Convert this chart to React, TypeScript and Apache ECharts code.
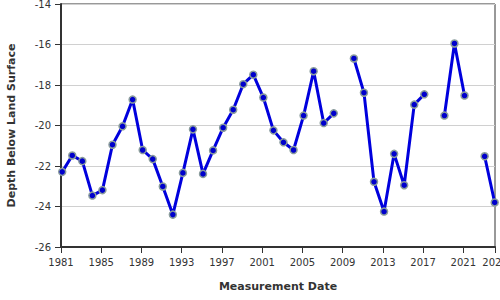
import React, { useEffect, useRef } from "react";
import * as echarts from "echarts";

const BASE_YEAR = 1981;
const years = [
  1981, 1982, 1983, 1984, 1985, 1986, 1987, 1988, 1989, 1990,
  1991, 1992, 1993, 1994, 1995, 1996, 1997, 1998, 1999, 2000,
  2001, 2002, 2003, 2004, 2005, 2006, 2007, 2008, 2009, 2010,
  2011, 2012, 2013, 2014, 2015, 2016, 2017, 2018, 2019, 2020,
  2021, 2022, 2023, 2024,
];
const depths: (number | null)[] = [
  -22.29, -21.48, -21.76, -23.46, -23.19, -20.95, -20.04, -18.72, -21.21, -21.66,
  -23.01, -24.4, -22.34, -20.19, -22.39, -21.23, -20.11, -19.22, -17.96, -17.49,
  -18.62, -20.24, -20.83, -21.21, -19.51, -17.32, -19.88, -19.4, null, -16.69,
  -18.38, -22.78, -24.25, -21.4, -22.95, -18.97, -18.46, null, -19.51, -15.95,
  -18.52, null, -21.52, -23.8,
];
const MEASURE_OFFSET = 0.12; // measurements taken early in each year
const X_MAX = 43.15;
const yTicks = [-14, -16, -18, -20, -22, -24, -26];

export default function App() {
  const ref = useRef<HTMLDivElement>(null);
  useEffect(() => {
    if (!ref.current) return;
    const chart = echarts.init(ref.current, null, { renderer: "svg" });
    const data = years.map((y, i) => [
      y - BASE_YEAR + MEASURE_OFFSET,
      depths[i] === null ? "-" : depths[i],
    ]);
    chart.setOption({
      animation: false,
      textStyle: { fontFamily: "DejaVu Sans" },
      grid: {
        left: 61,
        right: 5,
        top: 4,
        bottom: 53,
        containLabel: false,
        outerBoundsMode: "none",
        show: true,
        borderColor: "#333",
        borderWidth: 1,
      },
      xAxis: {
        type: "value",
        min: 0,
        max: X_MAX,
        interval: 4,
        name: "Measurement Date",
        nameLocation: "middle",
        nameGap: 34,
        nameTextStyle: { fontWeight: "bold", fontSize: 11, color: "#333" },
        axisLine: { show: true, lineStyle: { color: "#333", width: 2 } },
        axisTick: { show: true, length: 6, lineStyle: { color: "#333" } },
        axisLabel: {
          color: "#333",
          fontSize: 10,
          margin: 10,
          showMaxLabel: true,
          showMinLabel: true,
          hideOverlap: false,
          formatter: (v: number) => String(Math.floor(v + 1e-6) + BASE_YEAR),
        },
        splitLine: { show: false },
      },
      yAxis: {
        type: "value",
        min: yTicks[yTicks.length - 1],
        max: yTicks[0],
        interval: 2,
        name: "Depth Below Land Surface",
        nameLocation: "middle",
        nameGap: 44,
        nameTextStyle: { fontWeight: "bold", fontSize: 11, color: "#333" },
        axisLine: { show: true, lineStyle: { color: "#333", width: 2 } },
        axisTick: { show: true, length: 6, lineStyle: { color: "#333" } },
        axisLabel: { color: "#333", fontSize: 10, margin: 10 },
        splitLine: { show: true, lineStyle: { color: "#d0d0d0", width: 1 } },
      },
      series: [
        {
          type: "line",
          data,
          connectNulls: false,
          symbol: "circle",
          symbolSize: 7,
          lineStyle: { color: "#0000dd", width: 3 },
          itemStyle: { color: "#0000cc", borderColor: "#8a9c9c", borderWidth: 1.5 },
        },
      ],
    });
    return () => chart.dispose();
  }, []);
  return <div ref={ref} style={{ width: 500, height: 300, position: "absolute", left: 0, top: 0 }} />;
}
